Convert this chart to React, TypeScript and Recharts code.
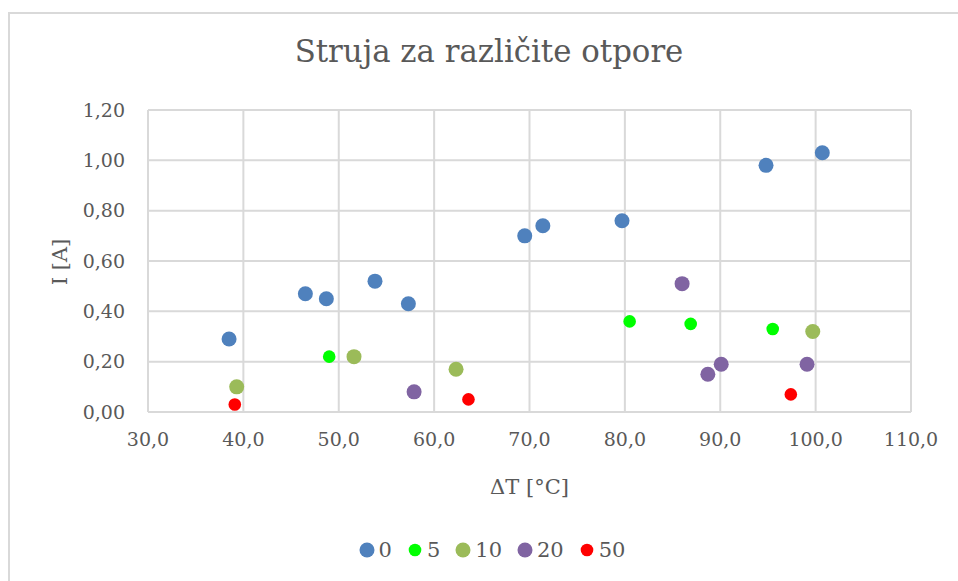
import { ScatterChart, Scatter, XAxis, YAxis, CartesianGrid, Legend } from "recharts";

// ΔT [°C] and I [A] per resistor value
const r0X = [38.5, 46.5, 48.7, 53.8, 57.3, 69.5, 71.4, 79.7, 94.8, 100.7];
const r0Y = [0.29, 0.47, 0.45, 0.52, 0.43, 0.7, 0.74, 0.76, 0.98, 1.03];
const r5X = [49.0, 80.5, 86.9, 95.5];
const r5Y = [0.22, 0.36, 0.35, 0.33];
const r10X = [39.3, 51.6, 62.3, 99.7];
const r10Y = [0.1, 0.22, 0.17, 0.32];
const r20X = [57.9, 86.0, 88.7, 90.1, 99.1];
const r20Y = [0.08, 0.51, 0.15, 0.19, 0.19];
const r50X = [39.1, 63.6, 97.4];
const r50Y = [0.03, 0.05, 0.07];

const xTicks = [30, 40, 50, 60, 70, 80, 90, 100, 110];
const yTicks = [0, 0.2, 0.4, 0.6, 0.8, 1.0, 1.2];

const FONT = "'DejaVu Serif', serif";
const TEXT = "#595959";
const GRID = "#d9d9d9";

const toPoints = (xs: number[], ys: number[]) => xs.map((x, i) => ({ x, y: ys[i] }));

const series = [
  { name: "0", data: toPoints(r0X, r0Y), color: "#4f81bd", r: 7.5 },
  { name: "5", data: toPoints(r5X, r5Y), color: "#00ff00", r: 6.3 },
  { name: "10", data: toPoints(r10X, r10Y), color: "#9bbb59", r: 7.5 },
  { name: "20", data: toPoints(r20X, r20Y), color: "#8064a2", r: 7.5 },
  { name: "50", data: toPoints(r50X, r50Y), color: "#ff0000", r: 6.3 },
];

const renderLegend = () => (
  <div
    style={{
      display: "flex",
      justifyContent: "center",
      alignItems: "center",
      height: 32,
      paddingLeft: 26,
      fontFamily: FONT,
      fontSize: 21,
      color: TEXT,
    }}
  >
    {series.map((s, i) => (
      <div key={s.name} style={{ display: "flex", alignItems: "center", marginRight: i < series.length - 1 ? 15 : 0 }}>
        <svg width={16} height={16} style={{ marginRight: 4 }}>
          <circle cx={8} cy={8} r={s.r} fill={s.color} />
        </svg>
        <span>{s.name}</span>
      </div>
    ))}
  </div>
);

export default function App() {
  return (
    <div style={{ position: "absolute", left: 0, top: 0, width: 958, height: 581, background: "#fff", overflow: "hidden" }}>
      <div style={{ position: "absolute", left: 8, top: 12, width: 1000, height: 700, border: `2px solid ${GRID}` }} />
      <div
        style={{
          position: "absolute",
          left: 0,
          width: 978,
          top: 36,
          lineHeight: "31px",
          textAlign: "center",
          fontFamily: FONT,
          fontSize: 30.8,
          color: TEXT,
        }}
      >
        Struja za različite otpore
      </div>
      <div
        style={{
          position: "absolute",
          left: 148,
          width: 763,
          top: 477,
          lineHeight: "21px",
          textAlign: "center",
          fontFamily: FONT,
          fontSize: 21,
          color: TEXT,
        }}
      >
        ΔT [°C]
      </div>
      <div
        style={{
          position: "absolute",
          left: 60,
          top: 262,
          lineHeight: "21px",
          transform: "translate(-50%, -50%) rotate(-90deg)",
          whiteSpace: "nowrap",
          fontFamily: FONT,
          fontSize: 21,
          color: TEXT,
        }}
      >
        I [A]
      </div>
      <div style={{ position: "absolute", left: 0, top: 0 }}>
        <ScatterChart width={958} height={581} margin={{ top: 110, right: 47, left: 88, bottom: 107 }}>
          <CartesianGrid stroke={GRID} strokeWidth={2} horizontal vertical />
          <XAxis
            type="number"
            dataKey="x"
            domain={[30, 110]}
            ticks={xTicks}
            height={30}
            tickSize={0}
            tickLine={false}
            tickMargin={21}
            axisLine={{ stroke: GRID, strokeWidth: 2 }}
            tick={{ fill: TEXT, fontFamily: FONT, fontSize: 19 }}
            tickFormatter={(v: number) => v.toFixed(1).replace(".", ",")}
          />
          <YAxis
            type="number"
            dataKey="y"
            domain={[0, 1.2]}
            ticks={yTicks}
            width={60}
            tickSize={0}
            tickLine={false}
            tickMargin={23}
            axisLine={false}
            tick={{ fill: TEXT, fontFamily: FONT, fontSize: 19 }}
            tickFormatter={(v: number) => v.toFixed(2).replace(".", ",")}
          />
          <Legend
            verticalAlign="bottom"
            content={renderLegend}
            wrapperStyle={{ position: "absolute", top: 534, left: 0, width: 958, height: 32 }}
          />
          {series.map((s) => (
            <Scatter
              key={s.name}
              name={s.name}
              data={s.data}
              fill={s.color}
              isAnimationActive={false}
              shape={(p: any) => <circle cx={p.cx} cy={p.cy} r={s.r} fill={s.color} />}
            />
          ))}
        </ScatterChart>
      </div>
    </div>
  );
}
